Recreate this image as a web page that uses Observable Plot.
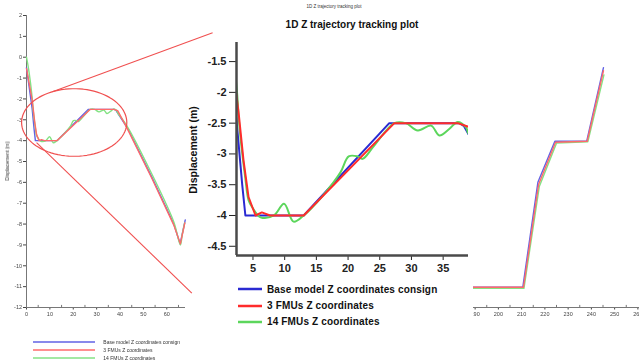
<!DOCTYPE html>
<html>
<head>
<meta charset="utf-8">
<script src="https://cdn.jsdelivr.net/npm/d3@7"></script>
<script src="https://cdn.jsdelivr.net/npm/@observablehq/plot@0.6"></script>
<style>
  html, body { margin: 0; padding: 0; background: #fff; overflow: hidden; }
  #stage { position: relative; width: 639px; height: 363px; overflow: hidden; background: #fff;
           font-family: "Liberation Sans", Arial, sans-serif; color: #111; }
  #stage svg { max-width: none !important; }
  .abs { position: absolute; white-space: nowrap; }
  .rot { position: absolute; white-space: nowrap; transform: translate(-50%, -50%) rotate(-90deg); }
  .soft { filter: blur(0.4px); }
  .row { position: absolute; display: flex; align-items: center; white-space: nowrap; }
</style>
</head>
<body>
<div id="stage"></div>
<script>
// Time (s) and vertical displacement (m) for each run, first window 0–68 s
const consignT = [0, 2.4, 3.3, 3.8, 13, 26.5, 37.6, 38.3, 39, 43, 53.6, 63, 65.7, 67.9];
const consignZ = [-0.5, -2.45, -3.5, -4, -4, -2.5, -2.5, -2.55, -2.68, -3.36, -5.75, -8.0, -8.95, -7.8];

const fmu3T = [0, 2.4, 2.8, 3.5, 4.3, 5.4, 6.4, 7.7, 13, 27.3, 37.3, 39, 43, 53.6, 63, 65.8, 67.7];
const fmu3Z = [-0.55, -2.05, -2.4, -3.1, -3.7, -4, -3.95, -4, -4, -2.5, -2.5, -2.56, -3.4, -5.8, -8.05, -8.95, -7.95];

const fmu14T = [0, 1, 2.4, 2.9, 3.8, 4.3, 4.9, 6.2, 8.3, 9.9, 11.4, 13, 16, 18.8, 20.1, 21.5, 22.3, 24, 27.3, 29.1,
                31, 33.1, 34.4, 36, 37.3, 38.6, 39, 43, 53.6, 63, 65.8, 66.6, 67.6];
const fmu14Z = [0, -0.64, -1.9, -2.6, -3.4, -3.75, -3.87, -4.03, -4.0, -3.81, -4.1, -4.0, -3.68, -3.3, -3.04, -3.04, -3.08, -2.88, -2.5, -2.5,
                -2.62, -2.54, -2.7, -2.59, -2.48, -2.57, -2.67, -3.3, -5.6, -7.9, -9.0, -8.5, -7.95];

// Later window, 185–265 s
const consignLateT = [185, 210.5, 217, 224.3, 238, 245.2];
const consignLateZ = [-11.03, -11.03, -6.0, -4.03, -4.03, -0.5];
const fmu3LateT = [185, 210.8, 217.3, 224.6, 238.2, 245.2];
const fmu3LateZ = [-11.03, -11.03, -6.1, -4.08, -4.03, -0.65];
const fmu14LateT = [185, 211, 217.6, 225, 238.5, 245.4];
const fmu14LateZ = [-11.08, -11.08, -6.2, -4.12, -4.05, -0.85];

// Series names and tick labels
const seriesNames = ["Base model Z coordinates consign", "3 FMUs Z coordinates", "14 FMUs Z coordinates"];
const overviewTicksX = [0, 10, 20, 30, 40, 50, 60];
const overviewMinorX = [5, 15, 25, 35, 45, 55, 65];
const overviewTicksY = [2, 1, 0, -1, -2, -3, -4, -5, -6, -7, -8, -9, -10, -11, -12];
const lateTicksX = [190, 200, 210, 220, 230, 240, 250, 260];
const lateMinorX = [195, 205, 215, 225, 235, 245, 255];
const detailTicksX = [5, 10, 15, 20, 25, 30, 35];
const detailTicksY = [-1.5, -2, -2.5, -3, -3.5, -4, -4.5];

// Zoom callout on the overview: ellipse around the detail window and its two leader lines
const zoomWindow = {t: 20.4, z: -3.13, rt: 22.5, rz: 1.62};
const leaderLines = [
  {t1: 11.1, z1: -1.66, t2: 79.6, z2: 1.17},
  {t1: 4.3, z1: -4.1, t2: 70.7, z2: -11.31}
];

const toRows = (T, Z) => T.map((t, i) => ({t, z: Z[i]}));
const runs = [
  {early: toRows(consignT, consignZ), late: toRows(consignLateT, consignLateZ)},
  {early: toRows(fmu3T, fmu3Z), late: toRows(fmu3LateT, fmu3LateZ)},
  {early: toRows(fmu14T, fmu14Z), late: toRows(fmu14LateT, fmu14LateZ)}
];

const sharp = ["#2a2ad2", "#ff2b2b", "#5cd65c"];
const pale = ["#6262e4", "#ff6a6a", "#84e284"];
const curves = ["linear", "linear", "catmull-rom"];
const drawOrder = [0, 2, 1];

const stage = document.getElementById("stage");
function put(el, left, top) {
  el.style.position = "absolute";
  el.style.left = left + "px";
  el.style.top = top + "px";
  stage.appendChild(el);
  return el;
}
function textDiv(cls, txt, css) {
  const d = document.createElement("div");
  d.className = cls;
  d.textContent = txt;
  Object.assign(d.style, css);
  stage.appendChild(d);
  return d;
}
const fmt = d => String(d);

// ---- Overview plot (0–68 s) ----
const ellipsePts = d3.range(0, 361, 4).map(a => {
  const r = a * Math.PI / 180;
  return {t: zoomWindow.t + zoomWindow.rt * Math.cos(r), z: zoomWindow.z + zoomWindow.rz * Math.sin(r)};
});
const overview = Plot.plot({
  width: 215, height: 330,
  marginLeft: 26, marginRight: 30, marginTop: 15, marginBottom: 23,
  style: "background:transparent;overflow:visible;max-width:none;font:5.5px 'Liberation Sans',Arial,sans-serif;color:#444",
  x: {domain: [0, 68], ticks: overviewTicksX, tickSize: 2.5, tickPadding: 2.5, tickFormat: fmt, label: null},
  y: {domain: [-12, 2], ticks: overviewTicksY, tickSize: 3, tickPadding: 1.5, tickFormat: fmt, label: null},
  marks: [
    Plot.ruleX([0], {stroke: "#777", strokeWidth: 1}),
    Plot.ruleY([-12], {stroke: "#777", strokeWidth: 1}),
    Plot.ruleX(overviewMinorX, {y1: -12, y2: -11.9, stroke: "#777"}),
    ...drawOrder.map(i => Plot.line(runs[i].early, {x: "t", y: "z", stroke: pale[i], strokeWidth: 1.4, curve: curves[i]})),
    Plot.line(ellipsePts, {x: "t", y: "z", stroke: "#f05050", strokeWidth: 1.2, clip: false}),
    Plot.link(leaderLines, {x1: "t1", y1: "z1", x2: "t2", y2: "z2", stroke: "#f05050", strokeWidth: 1.1, clip: false})
  ]
});
const ovWrap = document.createElement("div");
ovWrap.className = "soft";
ovWrap.appendChild(overview);
put(ovWrap, 0, 0);

textDiv("rot soft", "Displacement (m)", {left: "7px", top: "161px", fontSize: "5px", color: "#333"});

// overview legend
[342.3, 350.3, 358.3].forEach((cy, i) => {
  const row = document.createElement("div");
  row.className = "row soft";
  row.style.height = "6px";
  row.innerHTML = `<svg width="62" height="6"><line x1="0" x2="62" y1="3" y2="3" stroke="${pale[i]}" stroke-width="1.4"/></svg>`;
  const s = document.createElement("span");
  s.textContent = seriesNames[i];
  s.style.cssText = "font-size:5px;color:#333;margin-left:8px";
  row.appendChild(s);
  put(row, 33.3, cy - 3);
});

// ---- Later window (185–265 s) ----
const late = Plot.plot({
  width: 210, height: 330,
  marginLeft: 23, marginRight: 1, marginTop: 15, marginBottom: 23,
  style: "background:transparent;overflow:visible;max-width:none;font:5.5px 'Liberation Sans',Arial,sans-serif;color:#444",
  x: {domain: [185, 265], ticks: lateTicksX, tickSize: 2.5, tickPadding: 2.5, tickFormat: fmt, label: null},
  y: {domain: [-12, 2], axis: null},
  marks: [
    Plot.ruleY([-12], {stroke: "#777", strokeWidth: 1}),
    Plot.ruleX(lateMinorX, {y1: -12, y2: -11.9, stroke: "#777"}),
    ...drawOrder.map(i => Plot.line(runs[i].late, {x: "t", y: "z", stroke: pale[i], strokeWidth: 1.4}))
  ]
});
const lateWrap = document.createElement("div");
lateWrap.className = "soft";
lateWrap.style.width = "167px";
lateWrap.style.height = "340px";
lateWrap.style.overflow = "hidden";
late.style.position = "absolute";
late.style.left = "-32.5px";
late.style.top = "0px";
late.style.width = "210px";
late.style.height = "330px";
lateWrap.appendChild(late);
put(lateWrap, 472.5, 0);

// ---- Detail plot (2.4–39 s) ----
const detail = Plot.plot({
  width: 300, height: 255,
  marginLeft: 56, marginRight: 12, marginTop: 7, marginBottom: 35,
  style: "background:transparent;overflow:visible;max-width:none;font:bold 11px 'Liberation Sans',Arial,sans-serif;color:#222",
  x: {domain: [2.4, 39], ticks: detailTicksX, tickSize: 5, tickPadding: 4, tickFormat: fmt, label: null},
  y: {domain: [-4.65, -1.19], ticks: detailTicksY, tickSize: 7, tickPadding: 3, tickFormat: fmt, label: null},
  marks: [
    ...drawOrder.map(i => Plot.line(runs[i].early, {x: "t", y: "z", stroke: sharp[i], strokeWidth: 2, curve: curves[i], clip: true})),
    Plot.ruleX([2.4], {stroke: "#4a4a4a", strokeWidth: 2.5}),
    Plot.ruleY([-4.65], {stroke: "#4a4a4a", strokeWidth: 2.5})
  ]
});
put(detail, 180, 35);

textDiv("abs", "1D Z trajectory tracking plot", {left: "334px", top: "3.5px", fontSize: "4.5px", color: "#333", transform: "translateX(-50%)"});
textDiv("abs", "1D Z trajectory tracking plot", {left: "352px", top: "19px", fontSize: "10px", fontWeight: "bold", color: "#111", transform: "translateX(-50%)"});
textDiv("rot", "Displacement (m)", {left: "193px", top: "150px", fontSize: "10.5px", fontWeight: "bold", color: "#111"});

// detail legend
[289, 305.7, 321.7].forEach((cy, i) => {
  const row = document.createElement("div");
  row.className = "row";
  row.style.height = "14px";
  row.innerHTML = `<svg width="24" height="14"><line x1="0" x2="24" y1="7" y2="7" stroke="${sharp[i]}" stroke-width="2.5"/></svg>`;
  const s = document.createElement("span");
  s.textContent = seriesNames[i];
  s.style.cssText = "font-size:10px;font-weight:bold;color:#111;margin-left:5px;letter-spacing:0.15px";
  row.appendChild(s);
  put(row, 238, cy - 7);
});
</script>
</body>
</html>
